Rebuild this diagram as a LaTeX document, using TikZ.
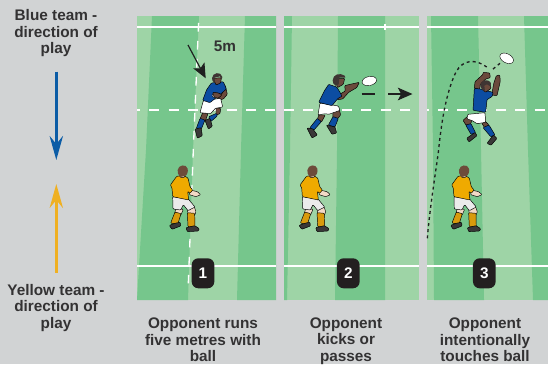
\documentclass[tikz,border=0pt]{standalone}
\usepackage{fontspec}
\setmainfont{Liberation Sans}
\usetikzlibrary{arrows.meta}
\definecolor{bgc}{HTML}{D1D3D4}
\definecolor{darkg}{HTML}{76C68C}
\definecolor{lightg}{HTML}{9ED4A6}
\definecolor{inkc}{HTML}{333233}
\definecolor{badgec}{HTML}{231F20}
\definecolor{blueteam}{HTML}{0B5CA6}
\definecolor{yellowteam}{HTML}{EFB022}
\definecolor{jerseyb}{HTML}{0C4DA2}
\definecolor{jerseyy}{HTML}{EFAA00}
\definecolor{sockY}{HTML}{D99A0C}
\definecolor{skinD}{HTML}{6B4A3C}
\definecolor{hairD}{HTML}{3F3533}
\definecolor{skinL}{HTML}{F3D9C6}
\definecolor{hairL}{HTML}{6E4B3A}
\definecolor{bootc}{HTML}{3A3838}
\tikzset{
  captxt/.style={align=center,text=inkc,inner sep=0pt,font=\fontsize{11.5}{12.4}\selectfont\bfseries},
  badge/.style={fill=badgec,text=white,rounded corners=5pt,minimum width=17pt,minimum height=22.5pt,inner sep=0pt,font=\fontsize{11.5}{12}\selectfont\bfseries},
  wline/.style={white,line width=.95pt},
  wdash/.style={white,line width=1.15pt,dash pattern=on 7.5pt off 7pt},
  vdash/.style={white,line width=1pt,dash pattern=on 6.5pt off 7pt},
  ol/.style={draw=black,line width=.35pt,rounded corners=.6pt},
  ball/.style={draw=black,line width=.3pt,fill=white},
  dirarrow/.style={line width=2pt,-{Stealth[length=18pt,width=10pt,inset=6pt]}},
  blackarrow/.style={black!85!bgc,line width=.9pt,-{Stealth[length=11pt,width=9.5pt,inset=2.5pt]}},
}
\newcommand{\yplayer}[1]{%
\begin{scope}[shift={(#1,160)},x=.25pt,y=-.25pt]
  \fill[ol,fill=skinL] (90,90)--(112,95)--(122,104)--(108,110)--(88,104)--cycle;
  \fill[ol,fill=skinL] (48,145)--(70,148)--(62,166)--(44,160)--cycle;
  \fill[ol,fill=skinL] (82,146)--(102,138)--(108,155)--(104,166)--(84,162)--cycle;
  \fill[ol,fill=sockY] (45,156)--(63,161)--(53,194)--(32,189)--cycle;
  \fill[ol,fill=sockY] (82,158)--(104,160)--(105,202)--(84,200)--cycle;
  \fill[ol,fill=bootc] (28,196)--(48,189)--(61,187)--(62,198)--(36,208)--cycle;
  \fill[ol,fill=bootc] (78,203)--(104,197)--(118,206)--(115,213)--(82,215)--cycle;
  \fill[ol,fill=black!8] (38,110)--(84,116)--(105,141)--(84,152)--(70,134)--(62,150)--(39,147)--cycle;
  \fill[ol,fill=jerseyy] (50,49)--(70,46)--(84,54)--(90,80)--(98,90)--(90,100)--(83,94)--(86,120)--(38,110)--(36,84)--(31,75)--cycle;
  \fill[ol,fill=skinL] (58,40)--(76,38)--(74,52)--(60,52)--cycle;
  \fill[hairL] (53,30) .. controls (55,14) and (79,11) .. (83,26) .. controls (85,36) and (81,46) .. (75,48) -- (60,51) .. controls (54,44) and (52,36) .. (53,30) -- cycle;
\end{scope}}
\begin{document}
\begin{tikzpicture}[x=.75pt,y=-.75pt]
\useasboundingbox (0,0) rectangle (548,364);
\fill[bgc] (0,0) rectangle (548,364);
% panel 1
\fill[lightg] (137,16) rectangle (276,300);
\fill[darkg] (152,16)--(199,16)--(193,150)--(188,300)--(137,300)--(146,150)--cycle;
\fill[darkg] (245,16)--(276,16)--(276,300)--(237,300)--(241,150)--cycle;
% panel 2
\fill[lightg] (284,16) rectangle (419,300);
\fill[darkg] (284,16)--(292,16)--(290,150)--(287,300)--(284,300)--cycle;
\fill[darkg] (338,16)--(385,16)--(385,300)--(335,300)--(337,150)--cycle;
% panel 3
\fill[lightg] (427,16) rectangle (548,300);
\fill[darkg] (431,16)--(478,16)--(481,150)--(484,300)--(434,300)--(433,150)--cycle;
\fill[darkg] (524,16)--(548,16)--(548,300)--(533,300)--(528,150)--cycle;
% field lines
\foreach \a/\b in {137/276,284/419,427/548}{
  \draw[wline] (\a,27)--(\b,27);
  \draw[wline] (\a,266)--(\b,266);
}
\begin{scope}\clip (137,16) rectangle (276,300); \draw[wdash] (130,110)--(276,110);\end{scope}
\begin{scope}\clip (284,16) rectangle (419,300); \draw[wdash] (284,110)--(419,110);\end{scope}
\begin{scope}\clip (427,16) rectangle (548,300); \draw[wdash] (418.7,110)--(548,110);\end{scope}
\draw[vdash] (198.6,23)--(193.3,150)--(188,292);
\draw[white,line width=1.2pt] (385,24)--(385,30);
% direction arrows
\coordinate (bs) at (56.3,71.5); \coordinate (be) at (56.3,160);
\coordinate (ys) at (56.3,272.7); \coordinate (ye) at (56.3,184);
\draw[dirarrow,blueteam] (bs)--(be);
\draw[dirarrow,yellowteam] (ys)--(ye);
% yellow players
\yplayer{160}\yplayer{289.7}\yplayer{441.3}
% blue runner
\begin{scope}[shift={(190,65)},x=.25pt,y=-.25pt]
  \fill[ol,fill=skinD] (38,143)--(54,146)--(46,168)--(30,162)--cycle;
  \fill[ol,fill=skinD] (78,128)--(92,130)--(90,146)--(78,150)--cycle;
  \fill[ol,fill=jerseyb] (30,160)--(45,165)--(34,192)--(19,190)--cycle;
  \fill[ol,fill=jerseyb] (56,155)--(80,145)--(82,153)--(62,170)--cycle;
  \fill[ol,fill=bootc] (15,192)--(33,188)--(37,212)--(22,220)--cycle;
  \fill[ol,fill=bootc] (45,166)--(60,160)--(67,184)--(55,192)--cycle;
  \fill[ol,fill=skinD] (98,58)--(106,62)--(112,88)--(100,102)--(82,106)--(84,95)--(98,84)--cycle;
  \fill[ol,fill=white] (40,107)--(92,100)--(98,126)--(76,130)--(62,146)--(30,143)--cycle;
  \fill[ol,fill=jerseyb] (64,54)--(100,50)--(109,72)--(98,82)--(60,113)--(38,106)--(50,74)--cycle;
  \fill[ball] (78,91) ellipse [x radius=12,y radius=8];
  \fill[ol,fill=skinD] (68,82)--(86,84)--(96,90)--(84,100)--(72,96)--cycle;
  \fill[ol,fill=skinD] (70,40)--(94,38)--(92,54)--(78,60)--cycle;
  \fill[hairD] (66,40) .. controls (66,22) and (94,18) .. (97,36) -- (95,44) -- (90,34) -- (74,38) -- (74,54) .. controls (68,50) and (66,46) .. (66,40) -- cycle;
\end{scope}
% blue kicker
\begin{scope}[shift={(300,65)},x=.25pt,y=-.25pt]
  \fill[ol,fill=skinD] (56,150)--(76,150)--(64,172)--(52,164)--cycle;
  \fill[ol,fill=skinD] (100,130)--(118,134)--(122,150)--(112,162)--(98,156)--cycle;
  \fill[ol,fill=jerseyb] (29,189)--(52,160)--(64,170)--(41,196)--cycle;
  \fill[ol,fill=jerseyb] (85,180)--(99,155)--(115,160)--(105,186)--cycle;
  \fill[ol,fill=bootc] (21,189)--(38,191)--(52,210)--(36,219)--cycle;
  \fill[ol,fill=bootc] (79,180)--(105,186)--(110,204)--(96,208)--cycle;
  \fill[ol,fill=white] (60,114)--(115,123)--(120,136)--(86,148)--(76,146)--(54,150)--cycle;
  \fill[ol,fill=skinD] (112,92)--(136,78)--(134,62)--(150,58)--(178,52)--(170,68)--(146,82)--(128,102)--(112,104)--cycle;
  \fill[ol,fill=jerseyb] (86,58)--(110,66)--(120,82)--(126,94)--(114,100)--(96,122)--(56,112)--(74,76)--cycle;
  \fill[ol,fill=skinD] (106,42)--(134,40)--(130,58)--(112,68)--cycle;
  \fill[hairD] (98,46) .. controls (98,28) and (120,22) .. (134,32) -- (136,38) -- (118,38) -- (116,58) -- (106,62) .. controls (100,58) and (98,52) .. (98,46) -- cycle;
  \coordinate (kball) at (208,48);
\end{scope}
\draw[ball] (kball) ellipse [x radius=5.5pt,y radius=3.4pt,rotate=12];
% blue catcher
\begin{scope}[shift={(455,45)},x=.25pt,y=-.25pt]
  \fill[ol,fill=skinD] (24,226)--(40,212)--(50,228)--(44,244)--(34,242)--cycle;
  \fill[ol,fill=skinD] (80,234)--(92,230)--(102,240)--(90,250)--cycle;
  \fill[ol,fill=jerseyb] (32,240)--(48,236)--(62,264)--(48,268)--cycle;
  \fill[ol,fill=jerseyb] (84,248)--(102,240)--(120,270)--(108,276)--cycle;
  \fill[ol,fill=bootc] (35,280)--(60,262)--(66,272)--(42,291)--cycle;
  \fill[ol,fill=bootc] (96,295)--(115,270)--(126,280)--(108,301)--cycle;
  \fill[ol,fill=white] (38,208)--(90,203)--(92,232)--(66,236)--(50,226)--(36,222)--cycle;
  \fill[ol,fill=skinD] (58,130)--(60,110)--(84,88)--(84,82)--(104,84)--(106,98)--(92,102)--(76,118)--(74,134)--cycle;
  \fill[ol,fill=skinD] (110,150)--(116,116)--(124,92)--(134,90)--(136,108)--(126,152)--cycle;
  \fill[ol,fill=jerseyb] (58,130)--(76,132)--(114,142)--(112,154)--(96,164)--(92,202)--(54,196)--cycle;
  \fill[ol,fill=skinD] (80,112)--(104,110)--(108,130)--(92,142)--(82,134)--cycle;
  \fill[hairD] (76,120) .. controls (78,104) and (100,100) .. (108,114) -- (106,124) -- (96,118) -- (88,122) -- (90,140) -- (82,134) .. controls (78,130) and (76,126) .. (76,120) -- cycle;
  \coordinate (cball) at (155,40);
\end{scope}
\draw[ball] (cball) ellipse [x radius=5.5pt,y radius=3.4pt,rotate=-28];
% catcher trajectory
\coordinate (t1) at (500,63.3); \coordinate (t2) at (492.7,69.3);
\coordinate (t3) at (486.7,67); \coordinate (t4) at (427.3,239);
\draw[black!85!bgc,line width=1pt,dash pattern=on 2.2pt off 2.4pt] (t1)--(t2);
\draw[black!85!bgc,line width=1pt,dash pattern=on 2.2pt off 2.4pt] (t3) .. controls (476,59) and (463,59) .. (456,72) .. controls (446,92) and (441,125) .. (438.3,152.7) .. controls (434,183) and (429,215) .. (t4);
% black arrows
\coordinate (a1s) at (188,45); \coordinate (a1e) at (205.7,78.3);
\draw[blackarrow] (a1s)--(a1e);
\coordinate (d1) at (361.7,94); \coordinate (d2) at (375,94);
\draw[black!85!bgc,line width=.9pt] (d1)--(d2);
\coordinate (a2s) at (388,94); \coordinate (a2e) at (412.5,94);
\draw[blackarrow] (a2s)--(a2e);
% labels
\node[captxt] (five) at (225,46.5) {5m};
\node[badge] (n1) at (203,273.3) {1};
\node[badge] (n2) at (348.3,273.3) {2};
\node[badge] (n3) at (484.3,273.3) {3};
\node[captxt] (blue) at (56,33.5) {Blue team -\\direction of\\play};
\node[captxt] (yell) at (56,308) {Yellow team -\\direction of\\play};
\node[captxt] (c1) at (203,340) {Opponent runs\\five metres with\\ball};
\node[captxt] (c2) at (346,341) {Opponent\\kicks or\\passes};
\node[captxt] (c3) at (485,340) {Opponent\\intentionally\\touches ball};
\end{tikzpicture}
\end{document}
